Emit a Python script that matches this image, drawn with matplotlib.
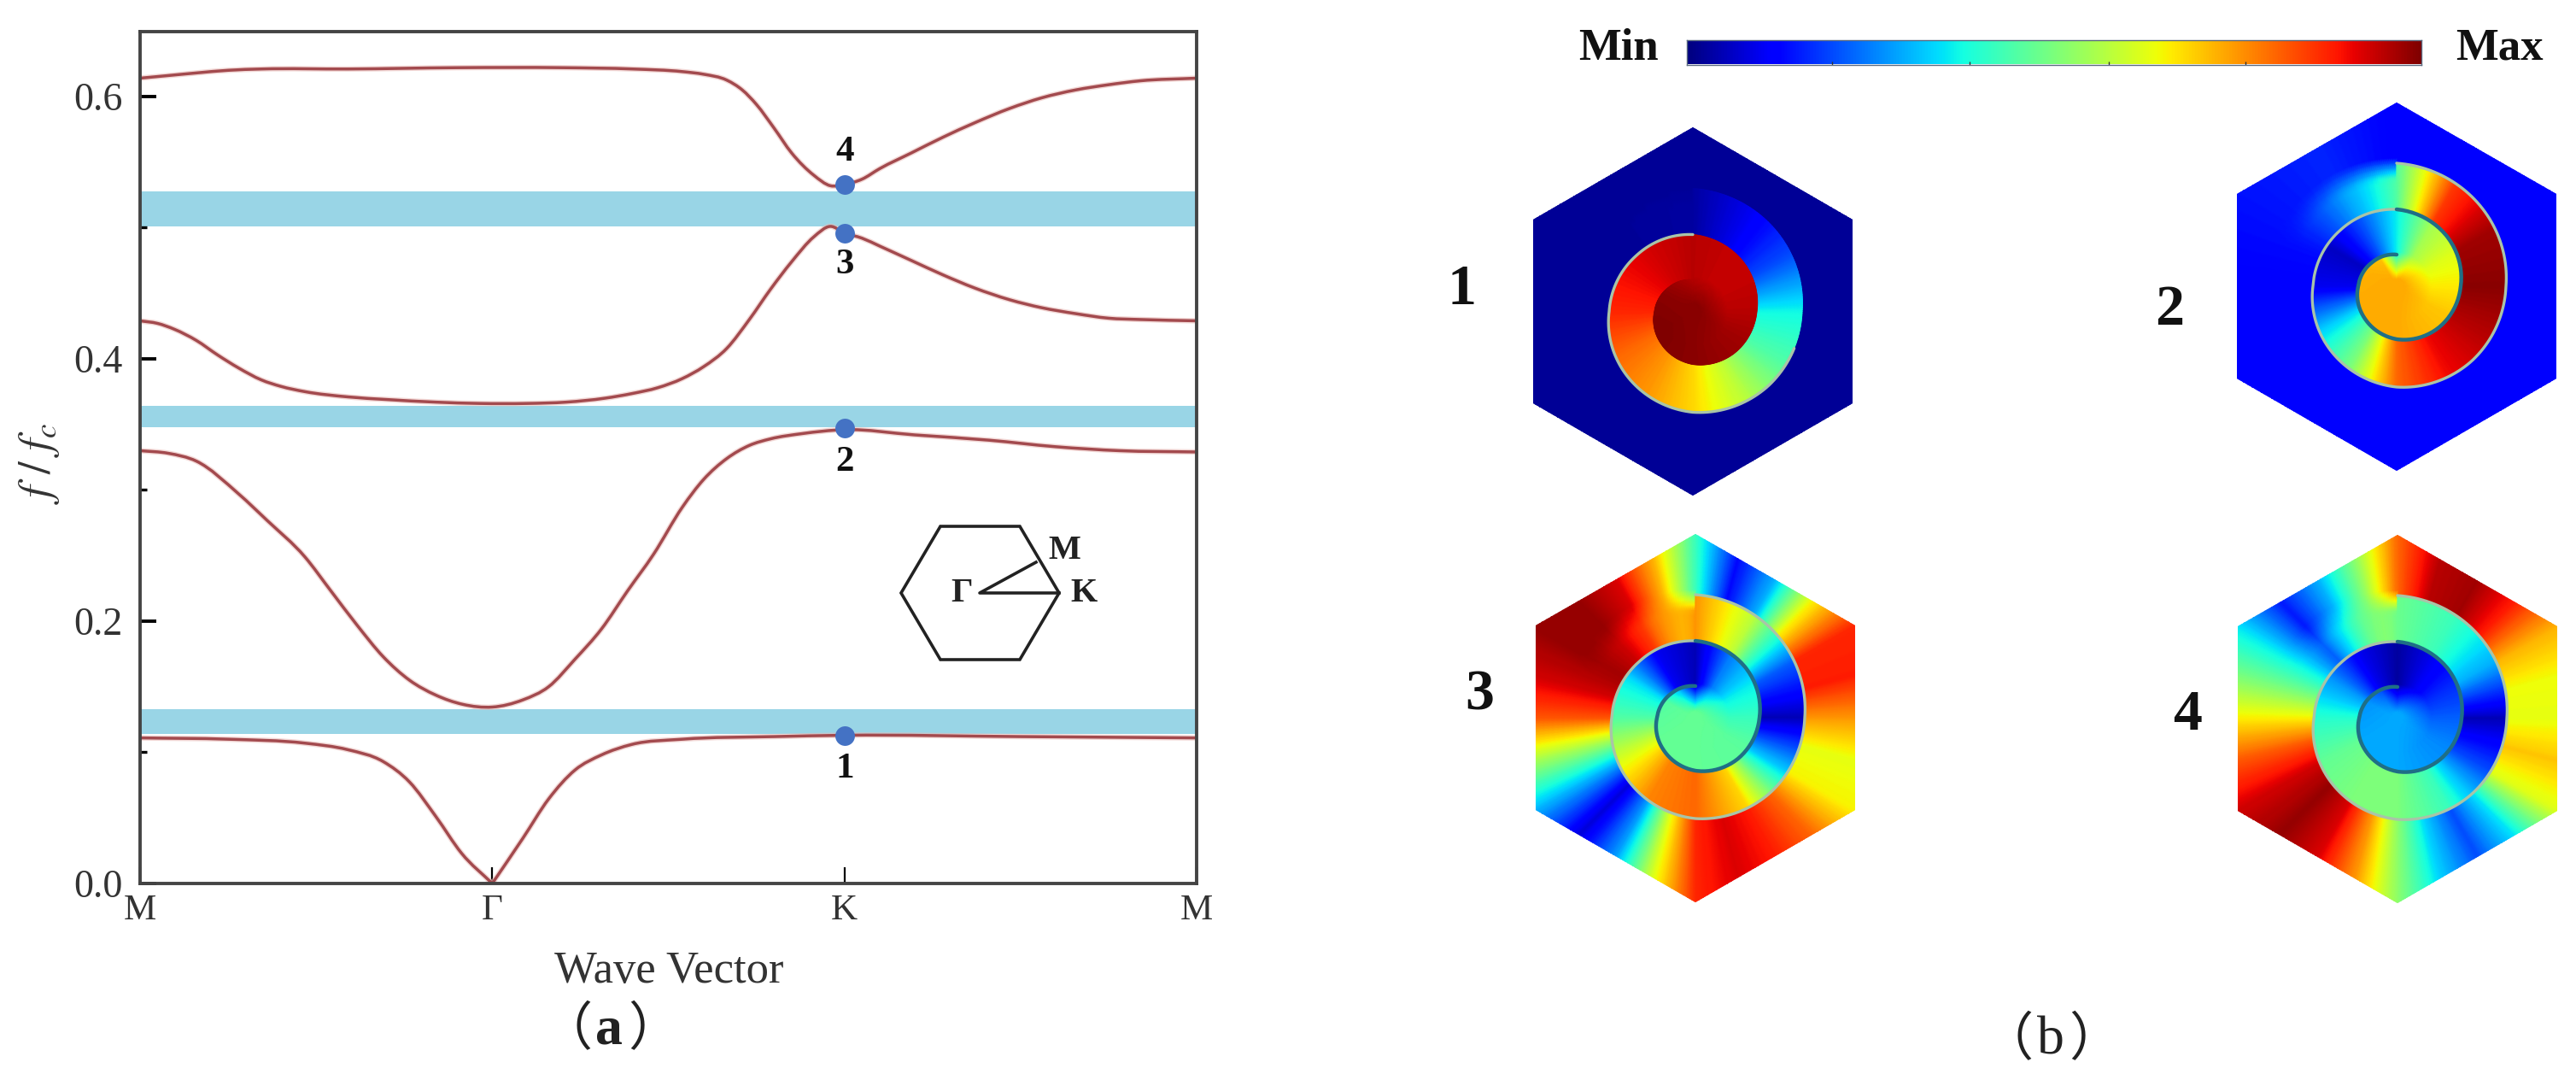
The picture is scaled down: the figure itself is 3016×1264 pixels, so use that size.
import numpy as np
import matplotlib
matplotlib.use('Agg')
import matplotlib.pyplot as plt
from matplotlib.patches import Polygon, PathPatch
from matplotlib.path import Path

plt.rcParams['font.family'] = ['Liberation Serif', 'Noto Sans CJK SC', 'DejaVu Sans']
plt.rcParams['mathtext.fontset'] = 'stix'

W, H = 3016, 1264

# band structure (x: M=0, Gamma=1, K=2, M=3)
band1_x = [0, .25, .468, .59, .69, .765, .84, .913, 1.0, 1.087, 1.16, 1.235, 1.31, 1.396, 1.54, 1.8, 2.0, 2.5, 3.0]
band1_y = [.111, .110, .107, .102, .093, .0774, .051, .023, 0, .0345, .0644, .0865, .098, .106, .11, .112, .113, .112, .111]
band2_x = [0, .08, .16, .28, .36, .468, .542, .616, .69, .765, .84, .916, 1.0, 1.087, 1.16, 1.235, 1.31, 1.384, 1.458, 1.54, 1.6, 1.666, 1.73, 1.79, 1.88, 2.0, 2.2, 2.41, 2.6, 2.78, 3.0]
band2_y = [.33, .328, .322, .297, .277, .249, .223, .197, .173, .155, .1436, .1366, .1345, .14, .15, .171, .194, .223, .251, .287, .308, .324, .334, .339, .343, .346, .342, .338, .333, .33, .329]
band3_x = [0, .05, .097, .16, .22, .28, .344, .4, .468, .59, .7, .84, .963, 1.1, 1.21, 1.32, 1.396, 1.47, 1.54, 1.6, 1.666, 1.73, 1.79, 1.85, 1.913, 1.96, 2.0, 2.05, 2.1, 2.19, 2.28, 2.37, 2.47, 2.56, 2.656, 2.75, 2.84, 3.0]
band3_y = [.429, .427, .4226, .414, .403, .393, .384, .379, .375, .371, .369, .367, .366, .366, .367, .37, .3735, .378, .385, .394, .408, .43, .453, .474, .493, .501, .496, .492, .486, .475, .464, .454, .445, .439, .4345, .431, .43, .429]
band4_x = [0, .08, .16, .25, .344, .59, .9, 1.2, 1.4, 1.54, 1.6, 1.666, 1.71, 1.75, 1.8, 1.85, 1.913, 1.96, 2.0, 2.05, 2.1, 2.19, 2.28, 2.37, 2.47, 2.56, 2.656, 2.75, 2.84, 3.0]
band4_y = [.614, .616, .618, .62, .621, .621, .622, .622, .621, .619, .617, .6125, .605, .594, .576, .557, .54, .532, .533, .537, .545, .557, .569, .58, .591, .599, .605, .609, .612, .614]

gap_low = [.114, .348, .501]
gap_high = [.133, .364, .5275]

mode_x = [2, 2, 2, 2]
mode_y = [.1125, .347, .496, .533]
mode_names = ['1', '2', '3', '4']

x_ticks = [0, 1, 2, 3]
x_labels = ['M', 'Γ', 'K', 'M']
y_ticks = [0.0, 0.2, 0.4, 0.6]
y_minor = [0.1, 0.3, 0.5]

# spiral wall radius (px) every 45 deg, clockwise from top, two turns
spiral_t = np.arange(0, 721, 45)
spiral_r = [144, 136, 128, 124, 118, 108, 98, 93, 90, 83, 75, 69, 62, 53, 45, 40, 37]

# field values on the 0..1 jet scale, read around each hexagon
outer_angles = np.arange(0, 361, 15)
channel_angles = np.arange(0, 361, 30)
core_angles = [0, 30, 60, 90, 120, 180, 240, 300, 330, 360]

h1_outer = [.02] * 25
h1_channel = [.03, .1, .2, .37, .45, .58, .68, .75, .8, .87, .9, .93, .95]
h1_core = [.95, .94, .94, .95, .97, .99, 1.0, .99, .97, .95]

h2_outer = [.12, .11, .11, .11, .11, .11, .11, .12, .12, .12, .12, .12, .12, .12, .12, .12, .12, .12, .12, .13, .14, .15, .16, .14, .12]
h2_channel = [.45, .85, .97, .99, .95, .9, .8, .5, .33, .1, .06, .2, .36]
h2_core = [.36, .55, .62, .66, .7, .73, .73, .72, .7, .36]

h3_outer = [.42, .13, .3, .65, .87, .88, .75, .63, .65, .8, .88, .92, .87, .62, .28, .08, .3, .55, .82, .93, .98, .98, .92, .72, .42]
h3_channel = [.75, .58, .22, .05, .32, .68, .8, .77, .62, .45, .35, .1, .05]
h3_core = [.05, .25, .36, .42, .46, .47, .47, .45, .3, .05]

h4_outer = [.8, .95, .97, .88, .72, .64, .63, .7, .62, .35, .2, .33, .52, .75, .92, .98, .93, .82, .66, .5, .35, .15, .3, .52, .8]
h4_channel = [.48, .42, .3, .05, .2, .42, .5, .5, .47, .4, .28, .1, .03]
h4_core = [.03, .1, .17, .22, .26, .29, .29, .27, .2, .03]


def band_path(x, y):
    '''smooth bezier through the read points, tangents from the neighbours'''
    x, y = np.asarray(x, float), np.asarray(y, float)
    m = np.gradient(y, x)
    verts = [(x[0], y[0])]
    codes = [Path.MOVETO]
    for i in range(len(x) - 1):
        dx = (x[i + 1] - x[i]) / 3.0
        verts += [(x[i] + dx, y[i] + m[i] * dx), (x[i + 1] - dx, y[i + 1] - m[i + 1] * dx), (x[i + 1], y[i + 1])]
        codes += [Path.CURVE4] * 3
    return Path(verts, codes)


def draw_band(ax, x, y):
    x, y = np.asarray(x), np.asarray(y)
    pieces = [(x, y)]
    if y.min() == 0:  # cusp at Gamma stays sharp
        k = int(np.argmin(y))
        pieces = [(x[:k + 1], y[:k + 1]), (x[k:], y[k:])]
    for px, py in pieces:
        p = band_path(px, py)
        ax.add_patch(PathPatch(p, fc='none', ec='#e9b9b5', lw=4.6, alpha=0.55, zorder=2, capstyle='butt'))
        ax.add_patch(PathPatch(p, fc='none', ec='#a34a4e', lw=2.5, zorder=2.1, capstyle='butt'))


def draw_hex(ax, cx, cy, outer, channel, core, wall_start=0, inner_color='#1f6f86'):
    '''one hexagon field: outside, spiral channel and core are drawn apart'''
    R = 215.5
    angs = np.radians(np.arange(0, 360, 60))
    hex_patch = Polygon(np.c_[cx + R * np.sin(angs), cy - R * np.cos(angs)], closed=True,
                        fc='none', ec='none', transform=ax.transData)
    ax.add_patch(hex_patch)
    th = np.arange(0, 361, 1.0)
    r1 = np.interp(th, spiral_t, spiral_r)
    r2 = np.interp(th + 360, spiral_t, spiral_r)
    s = np.sin(np.radians(th))[:, None]
    c = np.cos(np.radians(th))[:, None]
    frac = np.linspace(0, 1, 41)[None, :]

    # outside, running into the channel mouth left of the top
    rr = r1[:, None] + (330 - r1[:, None]) * frac
    v = np.interp(th, outer_angles, outer)[:, None] * np.ones_like(frac)
    w = np.clip((th[:, None] - 290) / 70.0, 0, 1) ** 1.5 * np.clip((150 - rr) / 25.0, 0, 1)
    v = v * (1 - w) + channel[0] * w
    mesh = ax.pcolormesh(cx + rr * s, cy - rr * c, v, cmap='jet', vmin=0, vmax=1, shading='gouraud')
    mesh.set_clip_path(hex_patch)

    # channel between the two turns
    rr = r2[:, None] + (r1 - r2)[:, None] * frac
    v = np.interp(th, channel_angles, channel)[:, None] * np.ones_like(frac)
    ax.pcolormesh(cx + rr * s, cy - rr * c, v, cmap='jet', vmin=0, vmax=1, shading='gouraud')

    # core, only the middle settles to the value at the bottom of the disc
    rr = r2[:, None] * frac
    v_wall = np.interp(th, core_angles, core)[:, None]
    w = np.clip((rr - 8) / 32.0, 0, 1)
    v = core[5] + (v_wall - core[5]) * w
    ax.pcolormesh(cx + rr * s, cy - rr * c, v, cmap='jet', vmin=0, vmax=1, shading='gouraud')

    # the wall itself
    t = np.arange(wall_start, 721, 2.0)
    rw = np.interp(t, spiral_t, spiral_r)
    xw = cx + rw * np.sin(np.radians(t))
    yw = cy - rw * np.cos(np.radians(t))
    ax.plot(xw[t <= 360], yw[t <= 360], color='#a9c4a8', lw=2.4, solid_capstyle='round')
    if inner_color is not None:
        ax.plot(xw[t >= 360], yw[t >= 360], color=inner_color, lw=3.2, solid_capstyle='round')


def panel_mark(ax, xl, xm, xr, y, letter, weight):
    '''full width brackets come from the CJK family, the letter from the serif'''
    cjk = ['Noto Sans CJK SC', 'DejaVu Sans']
    ax.text(xl, y, '（', fontsize=44, family=cjk, ha='center', va='center', color='#222222')
    ax.text(xm, y, letter, fontsize=46, family='Liberation Serif', fontweight=weight, ha='center', va='center', color='#222222')
    ax.text(xr, y, '）', fontsize=44, family=cjk, ha='center', va='center', color='#222222')


fig = plt.figure(figsize=(W / 100, H / 100), dpi=100, facecolor='white')

# ---- panel (a)
ax = fig.add_axes([164 / W, 1 - 1034 / H, 1237 / W, 997 / H])
for lo, hi in zip(gap_low, gap_high):
    ax.axhspan(lo, hi, color='#99d5e6', lw=0, zorder=1)
for bx, by in [(band1_x, band1_y), (band2_x, band2_y), (band3_x, band3_y), (band4_x, band4_y)]:
    draw_band(ax, bx, by)
ax.plot(mode_x, mode_y, 'o', color='#4472c4', ms=16.5, mew=0, zorder=3)
ax.set_xlim(0, 3)
ax.set_ylim(0, 0.6495)
ax.set_xticks(x_ticks)
ax.set_xticklabels(x_labels, fontsize=31, color='#333333')
ax.set_yticks(y_ticks)
ax.set_yticklabels(['%.1f' % v for v in y_ticks], fontsize=33, color='#333333')
ax.set_yticks(y_minor, minor=True)
ax.tick_params(axis='y', which='major', direction='in', length=14, width=2.8, pad=15)
ax.tick_params(axis='y', which='minor', direction='in', length=6, width=2.4)
ax.tick_params(axis='x', which='major', direction='in', length=14, width=1.6, pad=9)
for s in ax.spines.values():
    s.set_linewidth(2.8)
    s.set_color('#444444')
ax.set_xlabel('Wave Vector', fontsize=38, color='#333333')
ax.xaxis.set_label_coords((783 - 164) / 1237, (1034 - 1137) / 997, transform=ax.transAxes)
ax.xaxis.label.set_va('center')
ax.set_ylabel(r'$f\ /\ f_c$', fontsize=38, color='#333333')
ax.yaxis.set_label_coords((46 - 164) / 1237, (1034 - 543) / 997, transform=ax.transAxes)
ax.yaxis.label.set_va('center')

# ---- overlay in pixel coordinates for everything else
ov = fig.add_axes([0, 0, 1, 1], facecolor='none')
ov.set_xlim(0, W)
ov.set_ylim(H, 0)
ov.axis('off')

for name, yy in zip(mode_names, [900, 541, 310, 178]):
    ov.text(989, yy, name, fontsize=31, fontweight='bold', ha='center', va='center', color='#111111')

# Brillouin zone sketch
bz_x = [1055, 1101, 1194, 1240, 1194, 1101]
bz_y = [694, 616, 616, 694, 772, 772]
ov.add_patch(Polygon(np.c_[bz_x, bz_y], closed=True, fc='none', ec='#222222', lw=2.6))
ov.plot([1213, 1147, 1240], [658, 694, 694], color='#222222', lw=2.6)
ov.text(1126, 694, 'Γ', fontsize=29, fontweight='bold', ha='center', va='center', color='#222222')
ov.text(1269, 694, 'K', fontsize=29, fontweight='bold', ha='center', va='center', color='#222222')
ov.text(1246, 644, 'M', fontsize=29, fontweight='bold', ha='center', va='center', color='#222222')

panel_mark(ov, 663, 713, 766, 1206, 'a', 'bold')

# ---- panel (b)
cax = fig.add_axes([1975 / W, 1 - 75.5 / H, 860 / W, 28.5 / H])
cax.imshow(np.linspace(0, 1, 512)[None, :], cmap='jet', aspect='auto', extent=[0, 1, 0, 1])
cax.set_yticks([])
cax.set_xticks([.198, .385, .574, .76])
cax.set_xticklabels([])
cax.tick_params(axis='x', direction='in', length=3, width=1, color='#333333')
for s in cax.spines.values():
    s.set_linewidth(1)
    s.set_color('#5a6a80')

ov.text(1895, 57, 'Min', fontsize=38, fontweight='bold', ha='center', va='center', color='#111111')
ov.text(2926, 57, 'Max', fontsize=38, fontweight='bold', ha='center', va='center', color='#111111')

draw_hex(ov, 1982, 364.5, h1_outer, h1_channel, h1_core, wall_start=110, inner_color=None)
draw_hex(ov, 2806, 335, h2_outer, h2_channel, h2_core)
draw_hex(ov, 1985, 840, h3_outer, h3_channel, h3_core)
draw_hex(ov, 2807, 841, h4_outer, h4_channel, h4_core)

for name, xx, yy in [('1', 1712, 339), ('2', 2540, 363), ('3', 1732, 814), ('4', 2561, 838)]:
    ov.text(xx, yy, name, fontsize=49, fontweight='bold', ha='center', va='center', color='#111111')

panel_mark(ov, 2350, 2401, 2453, 1218, 'b', 'normal')

plt.savefig('out.png', dpi=100)
